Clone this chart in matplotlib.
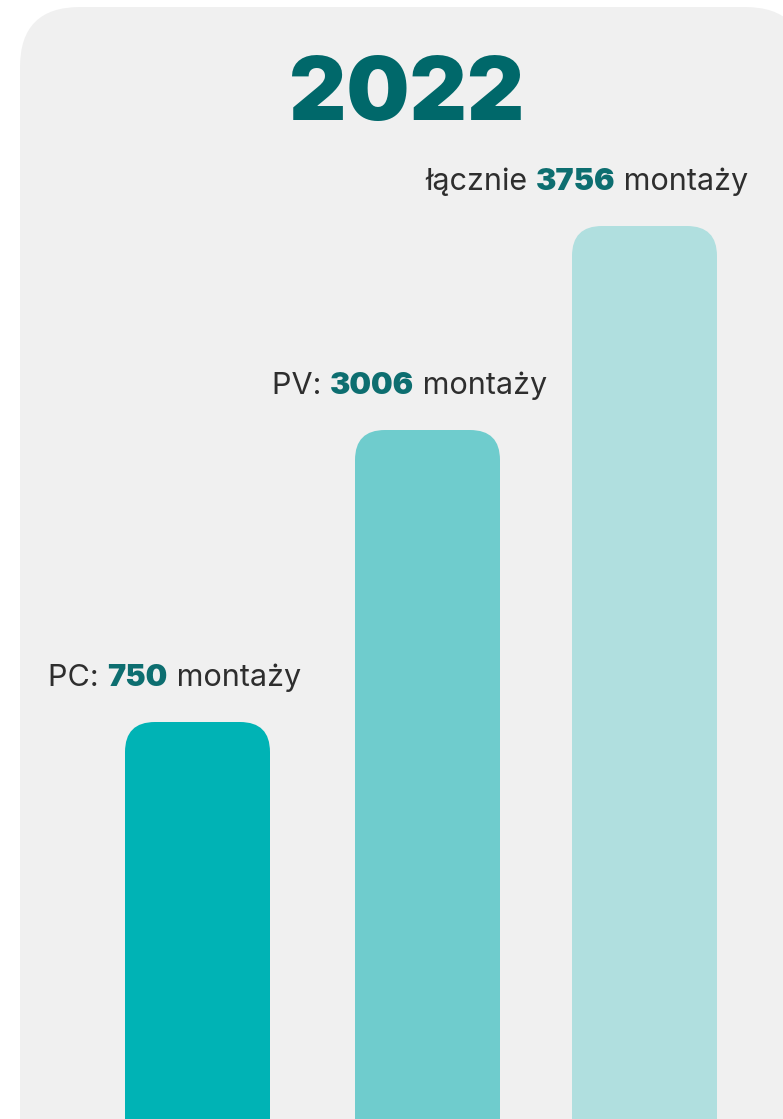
import matplotlib.pyplot as plt
from matplotlib.patches import FancyBboxPatch

# data
year = "2022"
prefixes = ["PC: ", "PV: ", "łącznie "]
values = [750, 3006, 3756]
unit = " montaży"
# drawn bar heights (the original is not to scale)
bar_heights = [397, 689, 893]

bar_colors = ["#00b3b5", "#6fcccd", "#b0dfdf"]
num_color = "#0d6e70"
text_color = "#2e2e2e"
title_color = "#00686a"
panel_color = "#f0f0f0"

W, H = 783, 1119
fig = plt.figure(figsize=(W / 100, H / 100), dpi=100)
fig.patch.set_facecolor("white")
ax = fig.add_axes([0, 0, 1, 1])
ax.set_xlim(0, W)
ax.set_ylim(0, H)
ax.axis("off")

# background panel with rounded corners
prad = 60
panel = FancyBboxPatch((20 + prad, -100), 805 - 20 - 2 * prad, H - 7 + 100 - prad,
                       boxstyle=f"round,pad={prad}", fc=panel_color, ec="none")
ax.add_patch(panel)

ax.text(407, H - 97, year, ha="center", va="center", fontsize=64,
        fontfamily="Inter", fontweight="black", color=title_color)

bar_w = 145
centers = [197.5, 427.5, 644.5]
rad = 30
label_left = [48, 272, 425]
for i, (c, h) in enumerate(zip(centers, bar_heights)):
    x0 = c - bar_w / 2
    bar = FancyBboxPatch((x0 + rad, -100 + rad), bar_w - 2 * rad, h + 100 - 2 * rad,
                         boxstyle=f"round,pad={rad}", fc=bar_colors[i], ec="none")
    ax.add_patch(bar)

fig.canvas.draw()
renderer = fig.canvas.get_renderer()


def draw_label(x, y, parts):
    for txt, col, wt in parts:
        t = ax.text(x, y, txt, ha="left", va="baseline", fontsize=22,
                    fontfamily="Inter", fontweight=wt, color=col)
        bb = t.get_window_extent(renderer)
        x += bb.width


for i, h in enumerate(bar_heights):
    y = h + 36
    draw_label(label_left[i], y, [
        (prefixes[i], text_color, "normal"),
        (str(values[i]), num_color, "black"),
        (unit, text_color, "normal"),
    ])

fig.savefig("out.png", dpi=100, facecolor="white")
